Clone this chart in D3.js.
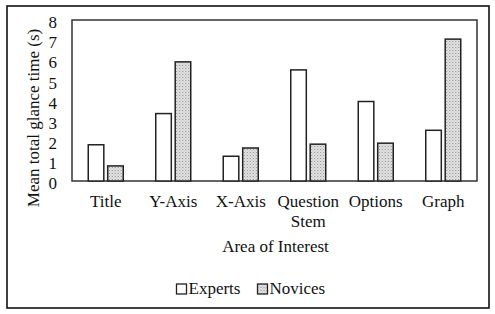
<!DOCTYPE html>
<html>
<head>
<meta charset="utf-8">
<script src="https://cdn.jsdelivr.net/npm/d3@7"></script>
<style>
  body { margin: 0; background: #fff; }
  text { font-family: "Liberation Serif", "Times New Roman", serif; fill: #111; }
</style>
</head>
<body>
<div id="vis"></div>
<script>
// data
var categories = [["Title"], ["Y-Axis"], ["X-Axis"], ["Question", "Stem"], ["Options"], ["Graph"]];
var seriesNames = ["Experts", "Novices"];
var experts = [1.8, 3.35, 1.23, 5.52, 3.95, 2.52];
var novices = [0.75, 5.92, 1.64, 1.83, 1.88, 7.05];
var yTicks = [0, 1, 2, 3, 4, 5, 6, 7, 8];

var W = 495, H = 314;
var margin = {top: 20, right: 18, bottom: 133, left: 72};
var width = W - margin.left - margin.right,
    height = H - margin.top - margin.bottom;

var svg = d3.select("#vis").append("svg")
    .attr("width", W)
    .attr("height", H);

// stipple pattern for novices
var defs = svg.append("defs");
var pat = defs.append("pattern")
    .attr("id", "dots")
    .attr("patternUnits", "userSpaceOnUse")
    .attr("width", 3).attr("height", 3);
pat.append("rect").attr("width", 3).attr("height", 3).attr("fill", "#e4e4e4");
pat.append("rect").attr("x", 0).attr("y", 0).attr("width", 1).attr("height", 1).attr("fill", "#8a8a8a");
pat.append("rect").attr("x", 1.5).attr("y", 1.5).attr("width", 1).attr("height", 1).attr("fill", "#a8a8a8");

// outer frame
svg.append("rect")
    .attr("x", 7).attr("y", 6)
    .attr("width", 482).attr("height", 302)
    .attr("fill", "none")
    .attr("stroke", "#111")
    .attr("stroke-width", 1.6);

var g = svg.append("g")
    .attr("transform", "translate(" + margin.left + "," + margin.top + ")");

var x0 = d3.scaleBand()
    .domain(d3.range(categories.length))
    .range([0, width]);

var x1 = d3.scaleBand()
    .domain(seriesNames)
    .range([-17.5, 17.5])
    .paddingInner(0.2);

var y = d3.scaleLinear().domain([0, 8]).range([height, 0]);

// plot frame
g.append("rect")
    .attr("width", width).attr("height", height)
    .attr("fill", "none")
    .attr("stroke", "#333")
    .attr("stroke-width", 1.5);

// y axis labels
var yAxis = g.append("g")
    .call(d3.axisLeft(y).tickValues(yTicks).tickSize(0).tickPadding(15));
yAxis.select(".domain").remove();
yAxis.selectAll("text")
    .attr("font-family", "Liberation Serif, serif")
    .attr("font-size", "17px")
    .attr("fill", "#111")
    .attr("dy", "0.45em");

// bars
var rows = categories.map(function(c, i) {
  return [{s: "Experts", v: experts[i]}, {s: "Novices", v: novices[i]}];
});

var grp = g.selectAll(".grp")
    .data(rows)
    .enter().append("g")
    .attr("class", "grp")
    .attr("transform", function(d, i) { return "translate(" + (x0(i) + x0.bandwidth() / 2) + ",0)"; });

grp.selectAll("rect")
    .data(function(d) { return d; })
    .enter().append("rect")
    .attr("x", function(d) { return x1(d.s); })
    .attr("width", x1.bandwidth())
    .attr("y", function(d) { return y(d.v); })
    .attr("height", function(d) { return height - y(d.v); })
    .attr("fill", function(d) { return d.s == "Experts" ? "#fff" : "url(#dots)"; })
    .attr("stroke", "#222")
    .attr("stroke-width", 1.5);

// category labels
var lab = g.selectAll(".cat")
    .data(categories)
    .enter().append("text")
    .attr("class", "cat")
    .attr("text-anchor", "middle")
    .attr("font-size", "17px")
    .attr("transform", function(d, i) { return "translate(" + (x0(i) + x0.bandwidth() / 2) + "," + (height + 26) + ")"; });
lab.selectAll("tspan")
    .data(function(d) { return d; })
    .enter().append("tspan")
    .attr("x", 0)
    .attr("y", function(d, i) { return i * 20; })
    .text(function(d) { return d; });

// axis titles
g.append("text")
    .attr("text-anchor", "middle")
    .attr("font-size", "17px")
    .attr("x", width / 2 + 1)
    .attr("y", height + 71)
    .text("Area of Interest");

svg.append("text")
    .attr("text-anchor", "middle")
    .attr("font-size", "17px")
    .attr("transform", "translate(39,118) rotate(-90)")
    .text("Mean total glance time (s)");

// legend
var legX = [176.5, 257.5];
var leg = svg.selectAll(".leg")
    .data(seriesNames)
    .enter().append("g")
    .attr("class", "leg")
    .attr("transform", function(d, i) { return "translate(" + legX[i] + ",284)"; });
leg.append("rect")
    .attr("width", 10).attr("height", 10)
    .attr("fill", function(d) { return d == "Experts" ? "#fff" : "url(#dots)"; })
    .attr("stroke", "#222")
    .attr("stroke-width", 1.3);
leg.append("text")
    .attr("x", 12)
    .attr("y", 9.5)
    .attr("font-size", "17px")
    .text(function(d) { return d; });
</script>
</body>
</html>
